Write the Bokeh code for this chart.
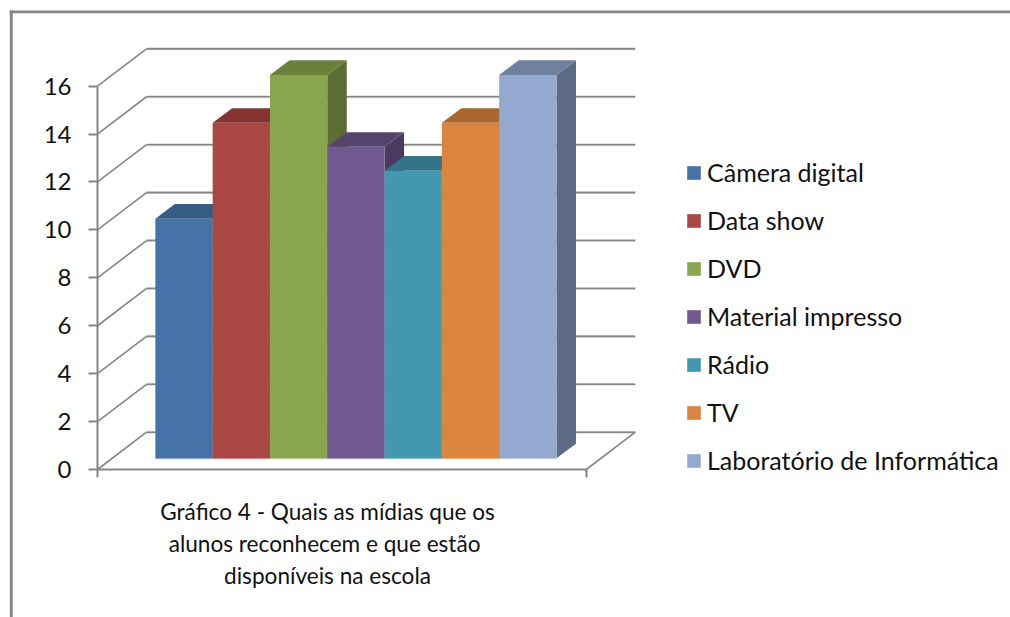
from bokeh.core.properties import value
from bokeh.embed import file_html
from bokeh.resources import INLINE
from bokeh.plotting import figure
from bokeh.models import FixedTicker, Legend, LegendItem, LinearAxis, Range1d

categories = ["Câmera digital", "Data show", "DVD", "Material impresso", "Rádio", "TV", "Laboratório de Informática"]
values = [10, 14, 16, 13, 12, 14, 16]
colors = ["#4572A7", "#AA4643", "#89A54E", "#71588F", "#4198AF", "#DB843D", "#93A9CF"]
top_colors = ["#355C85", "#843331", "#6A803B", "#57446E", "#327588", "#A9662F", "#70819F"]
side_colors = ["#2E4E72", "#722C2A", "#5B6D32", "#4B3A5F", "#2B6475", "#915828", "#5D6B85"]
y_ticks = [0, 2, 4, 6, 8, 10, 12, 14, 16]
caption = ["Gráfico 4 - Quais as mídias que os", "alunos reconhecem  e que estão", "disponíveis na escola"]

FONT = "Lato"
INK = "#111111"
GREY = "#868686"
W, H = 1010, 617
ORIGIN_X, ORIGIN_Y = 97, 469          # pixel position of the axes' crossing
UX, UY = 57.3, 23.96                  # pixels per category / per value unit
AXIS_END = 8.53
WALL_DX, WALL_DY = 49 / UX, 37.3 / UY
BAR_START, BAR_W = 1.01, 1.0
BASE = 0.47
BAR_DX, BAR_DY = 19.5 / UX, 14.6 / UY


def px(x):
    return (x - ORIGIN_X) / UX


def py(y):
    return (ORIGIN_Y - y) / UY


p = figure(width=W, height=H, output_backend="svg", toolbar_location=None,
           x_range=Range1d(px(0), px(W)), y_range=Range1d(py(H), py(0)),
           min_border=0, x_axis_type=None, y_axis_type=None)
p.grid.visible = False
p.outline_line_color = None
p.background_fill_color = "white"
p.border_fill_color = "white"

# chart-area border (top and left only)
p.quad(left=[px(9.3), px(9.3)], right=[px(W), px(12.3)], top=[py(10), py(10)], bottom=[py(12.7), py(H)],
       fill_color=GREY, line_color=None)


def style_axis(ax):
    ax.minor_tick_out = 0
    ax.minor_tick_in = 0
    ax.major_tick_in = 0
    ax.axis_line_color = GREY
    ax.axis_line_width = 2
    ax.major_tick_line_color = GREY
    ax.major_tick_line_width = 2


yaxis = LinearAxis(ticker=FixedTicker(ticks=y_ticks), bounds=(0, 16), fixed_location=0)
style_axis(yaxis)
yaxis.major_tick_out = 9
yaxis.major_label_text_font = FONT
yaxis.major_label_text_font_size = "24px"
yaxis.major_label_text_color = INK
yaxis.major_label_standoff = 17
p.add_layout(yaxis, "left")

xaxis = LinearAxis(ticker=FixedTicker(ticks=[0, AXIS_END]), bounds=(0, AXIS_END), fixed_location=0)
style_axis(xaxis)
xaxis.major_tick_out = 8
xaxis.major_label_text_color = None
xaxis.major_label_text_font_size = "1px"
p.add_layout(xaxis, "below")

# back wall gridlines with their slanted left-wall links
n = len(y_ticks)
back = [v + WALL_DY for v in y_ticks]
p.segment(x0=[WALL_DX] * n, x1=[AXIS_END + WALL_DX] * n, y0=back, y1=back, line_color="#DDDDDD", line_width=3)
p.segment(x0=[WALL_DX] * n, x1=[AXIS_END + WALL_DX] * n, y0=back, y1=back, line_color=GREY, line_width=1.6)
p.segment(x0=[0] * n, x1=[WALL_DX] * n, y0=y_ticks, y1=back, line_color=GREY, line_width=1.6)
p.segment(x0=[AXIS_END], x1=[AXIS_END + WALL_DX], y0=[0], y1=[WALL_DY], line_color=GREY, line_width=1.6)

# 3D bars
items = []
for i, (name, v) in enumerate(zip(categories, values)):
    x0 = BAR_START + i * BAR_W
    x1 = x0 + BAR_W
    y0 = BASE
    y1 = BASE + v
    p.patch([x1, x1 + BAR_DX, x1 + BAR_DX, x1], [y0, y0 + BAR_DY, y1 + BAR_DY, y1],
            fill_color=side_colors[i], line_color=None)
    p.patch([x0, x1, x1 + BAR_DX, x0 + BAR_DX], [y1, y1, y1 + BAR_DY, y1 + BAR_DY],
            fill_color=top_colors[i], line_color=None)
    r = p.quad(left=[x0], right=[x1], bottom=[y0], top=[y1], fill_color=colors[i], line_color=None)
    p.segment(x0=[x0], x1=[x1], y0=[y0], y1=[y0], line_color=colors[i], line_alpha=0.45, line_width=2)
    items.append(LegendItem(label=name, renderers=[r]))

legend = Legend(items=items, location=(685, 142), orientation="vertical",
                glyph_width=17, glyph_height=17, label_standoff=5, label_height=20, spacing=18,
                padding=0, margin=0, background_fill_alpha=0, border_line_color=None,
                label_text_font=FONT, label_text_font_size="25px", label_text_color=INK)
p.add_layout(legend, "center")

# caption under the axis
cap_y = [511, 543, 575]
p.text(x=[px(327)] * 3, y=[py(c) for c in cap_y], text=caption, text_align="center", text_baseline="middle",
       text_font=value(FONT), text_font_size="22.6px", text_color=INK)

open("out.html", "w").write(file_html(p, INLINE))
